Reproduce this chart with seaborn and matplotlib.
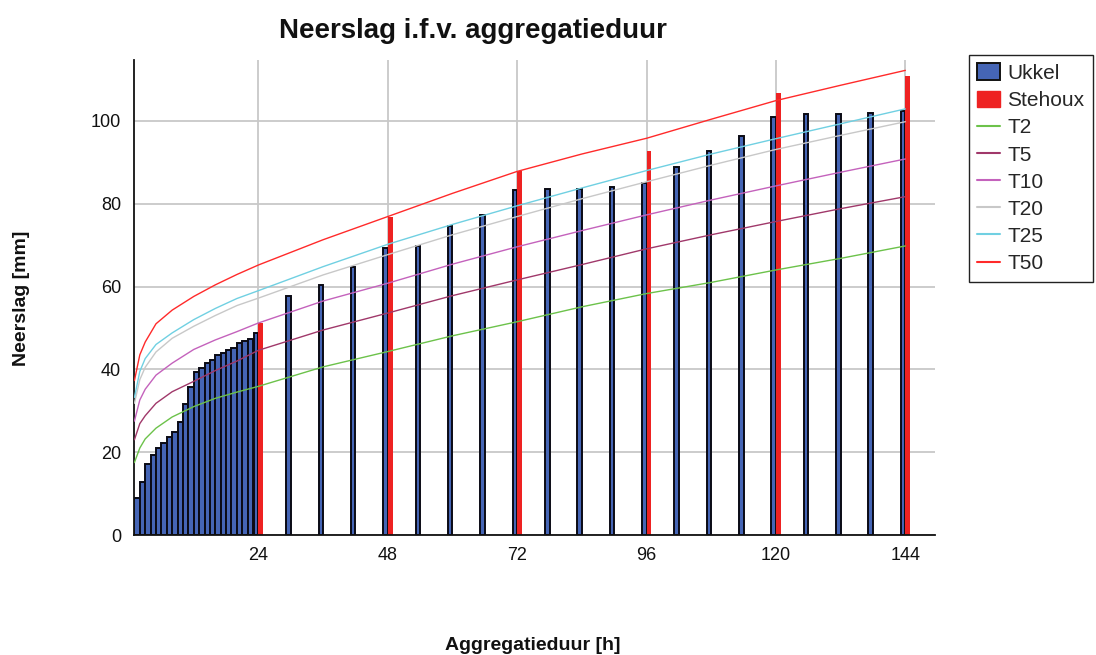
import numpy as np
import pandas as pd
import matplotlib
matplotlib.use("Agg")
import matplotlib.pyplot as plt
from matplotlib.patches import Patch
from matplotlib.lines import Line2D
import seaborn as sns

# Ukkel: maximum precipitation per aggregation duration (hours)
ukkel_duur = [2, 3, 4, 5, 6, 7, 8, 9, 10, 11, 12, 13, 14, 15, 16, 17, 18, 19, 20,
              21, 22, 23, 24, 30, 36, 42, 48, 54, 60, 66, 72, 78, 84, 90, 96,
              102, 108, 114, 120, 126, 132, 138, 144]
ukkel_mm = [9.0, 12.9, 17.1, 19.2, 20.9, 22.3, 23.6, 24.8, 27.4, 31.6, 35.8, 39.3,
            40.4, 41.6, 42.3, 43.5, 43.9, 44.7, 45.1, 46.4, 46.9, 47.3, 48.7,
            57.8, 60.4, 64.8, 69.4, 69.8, 74.6, 77.2, 83.3, 83.6, 83.6, 84.1, 84.9,
            88.8, 92.8, 96.4, 101.0, 101.6, 101.6, 102.0, 102.4]

# Stehoux: daily aggregation durations
stehoux_duur = [24, 48, 72, 96, 120, 144]
stehoux_mm = [51.1, 76.9, 88.0, 92.7, 106.7, 110.9]

# Return-period curves (T2 ... T50)
t_duur = [1, 2, 3, 5, 8, 12, 16, 20, 24, 36, 48, 60, 72, 84, 96, 108, 120, 132, 144]
t2 = [17.5, 21.0, 23.2, 25.8, 28.5, 31.0, 33.0, 34.5, 35.9, 40.6, 44.3, 48.1, 51.5,
      55.1, 58.3, 61.0, 64.0, 66.8, 69.8]
t5 = [23.0, 26.9, 28.8, 31.8, 34.6, 37.1, 39.7, 42.0, 44.6, 49.5, 53.6, 57.8, 61.6,
      65.3, 69.1, 72.5, 75.7, 78.8, 81.7]
t10 = [27.5, 32.6, 35.2, 38.6, 41.5, 44.8, 47.1, 49.1, 51.2, 56.5, 60.8, 65.4, 69.6,
       73.5, 77.3, 80.9, 84.3, 87.6, 90.8]
t20 = [31.8, 37.5, 40.5, 44.2, 47.5, 50.4, 53.0, 55.4, 57.2, 62.8, 67.7, 72.5, 76.9,
       81.2, 85.3, 89.3, 93.1, 96.5, 99.8]
t25 = [33.2, 39.5, 42.6, 46.0, 48.8, 52.0, 54.7, 57.1, 59.0, 64.8, 70.2, 75.0, 79.5,
       83.8, 88.0, 92.0, 95.7, 99.3, 102.9]
t50 = [37.3, 43.5, 46.6, 51.0, 54.3, 57.6, 60.4, 62.9, 65.2, 71.3, 76.9, 82.5, 87.8,
       92.0, 95.8, 100.4, 104.9, 108.6, 112.2]

t_names = ["T2", "T5", "T10", "T20", "T25", "T50"]
t_series = [t2, t5, t10, t20, t25, t50]
t_colors = ["#6cc24a", "#a0386a", "#c462bc", "#c8c8c8", "#70d0e2", "#ff2a2a"]
ukkel_color = "#4565b5"
stehoux_color = "#ee2222"

sns.set_style("white")
plt.rcParams["font.family"] = ["Liberation Sans", "DejaVu Sans"]

W, H = 1096, 655
fig = plt.figure(figsize=(W / 100, H / 100), dpi=100)
ax = fig.add_axes([133.5 / W, 1 - 535 / H, (935 - 133.5) / W, (535 - 60) / H])

# Bars sit just left of their duration; hourly ones fill the whole hour
ukkel_w = [-1.0 if d < 24 else -0.85 for d in ukkel_duur]
ax.bar(ukkel_duur, ukkel_mm, width=ukkel_w, align="edge", color=ukkel_color,
       edgecolor="#0a0a14", linewidth=1.4, zorder=2)
ax.bar(stehoux_duur, stehoux_mm, width=0.9, align="edge", color=stehoux_color,
       linewidth=0, zorder=2)

long = pd.DataFrame({
    "duur": np.tile(t_duur, len(t_names)),
    "mm": np.concatenate(t_series),
    "T": np.repeat(t_names, len(t_duur)),
})
sns.lineplot(data=long, x="duur", y="mm", hue="T", hue_order=t_names,
             palette=dict(zip(t_names, t_colors)), linewidth=1.0, ax=ax,
             legend=False, zorder=3)

ax.set_xlim(0.83, 149.5)
ax.set_ylim(0, 114.7)
ax.set_xticks([24, 48, 72, 96, 120, 144])
ax.set_yticks([0, 20, 40, 60, 80, 100])
ax.set_xlabel("")
ax.set_ylabel("")
ax.grid(True, color="#c8c8c8", linewidth=1.3)
ax.set_axisbelow(True)
for s in ["top", "right"]:
    ax.spines[s].set_visible(False)
for s in ["left", "bottom"]:
    ax.spines[s].set_color("#111111")
    ax.spines[s].set_linewidth(1.3)
ax.tick_params(axis="both", length=5, width=1, color="#666666",
               labelsize=13, labelcolor="#111111", pad=4, direction="out")

fig.text(473 / W, 1 - 31 / H, "Neerslag i.f.v. aggregatieduur", ha="center",
         va="center", fontsize=20, fontweight="bold", color="#111111")
fig.text(22 / W, 1 - 298 / H, "Neerslag [mm]", rotation=90, ha="center",
         va="center", fontsize=14, fontweight="bold", color="#111111")
fig.text(533 / W, 1 - 645 / H, "Aggregatieduur [h]", ha="center", va="center",
         fontsize=14, fontweight="bold", color="#111111")

handles = [Patch(facecolor=ukkel_color, edgecolor="#111111", linewidth=1.4),
           Patch(facecolor=stehoux_color, edgecolor=stehoux_color)]
handles += [Line2D([], [], color=c, linewidth=1.5) for c in t_colors]
labels = ["Ukkel", "Stehoux"] + t_names
leg = fig.legend(handles, labels, loc="upper left",
                 bbox_to_anchor=(969 / W, 1 - 55 / H), fontsize=15,
                 frameon=True, fancybox=False, framealpha=1,
                 edgecolor="#222222", borderpad=0.4, labelspacing=0.37,
                 handlelength=1.1, handleheight=0.85, handletextpad=0.35,
                 borderaxespad=0)
leg.get_frame().set_linewidth(1.0)

fig.savefig("out.png", dpi=100)
